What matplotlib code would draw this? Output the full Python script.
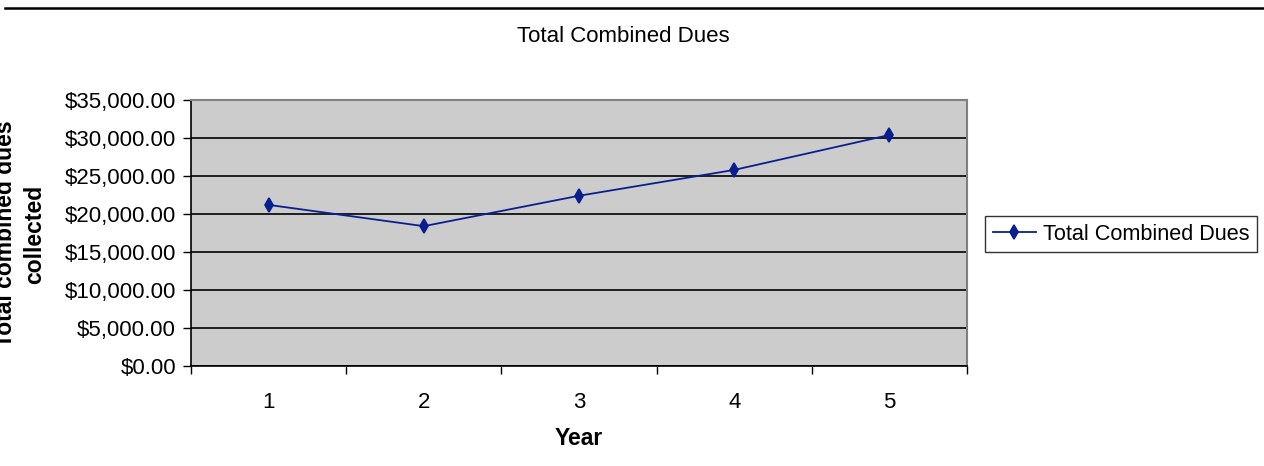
import matplotlib.pyplot as plt
from matplotlib.lines import Line2D
from matplotlib.ticker import FuncFormatter, FixedLocator

# Veriler
yillar = [1, 2, 3, 4, 5]
toplam_aidat = [21200, 18400, 22400, 25800, 30400]
seri_adi = "Total Combined Dues"

plt.rcParams['font.family'] = ['Liberation Sans', 'DejaVu Sans']

fig = plt.figure(figsize=(12.64, 4.66), dpi=100)
ax = fig.add_axes([191 / 1264, 1 - 366 / 466, (967 - 191) / 1264, (366 - 100) / 466])

ax.set_facecolor('#cccccc')
ax.plot(yillar, toplam_aidat, color='#0a1f8f', marker='d', markersize=6.8,
        markeredgewidth=1.2, linewidth=1.3, label=seri_adi)

ax.set_xlim(0.5, 5.5)
ax.set_ylim(0, 35000)
ax.set_yticks(range(0, 35001, 5000))
ax.yaxis.set_major_formatter(FuncFormatter(lambda v, p: f"${v:,.2f}"))
ax.grid(axis='y', color='black', linewidth=1.2)
ax.set_axisbelow(True)

# x ekseni: kategori arasi tikler
ax.set_xticks(yillar)
ax.set_xticklabels([str(y) for y in yillar])
ax.tick_params(axis='x', which='major', length=0, pad=19, labelsize=16)
ax.xaxis.set_minor_locator(FixedLocator([0.5, 1.5, 2.5, 3.5, 4.5, 5.5]))
ax.tick_params(axis='x', which='minor', length=5.8, width=1, direction='out')
ax.tick_params(axis='y', length=5.8, width=1, direction='out', labelsize=16, pad=5)

for s in ['left', 'bottom']:
    ax.spines[s].set_color('black')
    ax.spines[s].set_linewidth(1.2)
for s in ['top', 'right']:
    ax.spines[s].set_color('#808080')
    ax.spines[s].set_linewidth(1.5)

ax.set_xlabel("Year", fontsize=16.5, fontweight='bold', labelpad=10)

fig.text(623 / 1264, 1 - 37 / 466, "Total Combined Dues", fontsize=16,
         ha='center', va='center')
fig.text(20 / 1264, 1 - 234 / 466, "Total combined dues\ncollected", fontsize=16.5,
         fontweight='bold', rotation=90, ha='center', va='center', linespacing=1.3)

# ust cizgi
fig.add_artist(Line2D([5 / 1264, 1], [1 - 8 / 466, 1 - 8 / 466], color='black',
                      linewidth=1.8, transform=fig.transFigure))

leg = ax.legend(loc='center left', bbox_to_anchor=(985 / 1264, 1 - 234 / 466),
                bbox_transform=fig.transFigure, fontsize=15.6, frameon=True,
                fancybox=False, edgecolor='black', handlelength=2.0,
                borderpad=0.36, handletextpad=0.3, borderaxespad=0)
leg.get_frame().set_linewidth(1.0)

fig.savefig('out.png', dpi=100)
